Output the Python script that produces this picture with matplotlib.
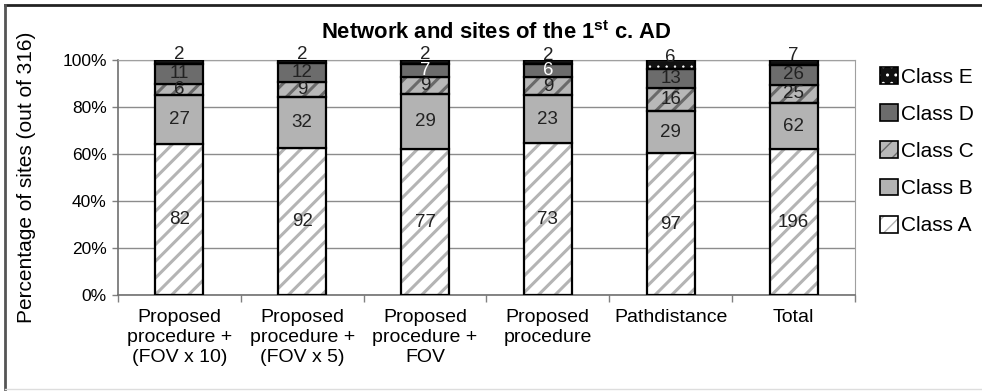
import numpy as np
import matplotlib
matplotlib.use("Agg")
import matplotlib.pyplot as plt
from matplotlib.patches import Patch
from matplotlib.legend_handler import HandlerTuple
from matplotlib.lines import Line2D

plt.rcParams['font.family'] = ['Liberation Sans', 'DejaVu Sans']
plt.rcParams['mathtext.fontset'] = 'custom'
plt.rcParams['mathtext.bf'] = 'Liberation Sans:bold'
plt.rcParams['mathtext.rm'] = 'Liberation Sans'

categories = ['Proposed\nprocedure +\n(FOV x 10)', 'Proposed\nprocedure +\n(FOV x 5)',
              'Proposed\nprocedure +\nFOV', 'Proposed\nprocedure', 'Pathdistance', 'Total']
class_names = ['Class A', 'Class B', 'Class C', 'Class D', 'Class E']
class_a = [82, 92, 77, 73, 97, 196]
class_b = [27, 32, 29, 23, 29, 62]
class_c = [6, 9, 9, 9, 16, 25]
class_d = [11, 12, 7, 6, 13, 26]
class_e = [2, 2, 2, 2, 6, 7]

# face, hatch colour, hatch pattern, hatch line width for each class
styles = [
    ('white', '#b4b4b4', '//', 2.2),
    ('#b3b3b3', None, None, 0),
    ('#b8b8b8', '#6a6a6a', '//', 2.2),
    ('#6c6c6c', None, None, 0),
    ('#111111', 'white', '..', 0.5),
]
white_d_labels = [2, 3]  # bars where the class D count is printed in white

counts = np.array([class_a, class_b, class_c, class_d, class_e], dtype=float)
shares = counts / counts.sum(axis=0)

fig = plt.figure(figsize=(9.82, 3.91), dpi=100)
ax = fig.add_axes([0.120, 0.2455, 0.7507, 0.601])

x = np.arange(len(categories))
width = 0.39
bottom = np.zeros(len(categories))
handles = []
for k, (face, hcol, hatch, hlw) in enumerate(styles):
    if hatch:
        with plt.rc_context({'hatch.linewidth': hlw}):
            ax.bar(x, shares[k], width, bottom=bottom, color=face, edgecolor=hcol,
                   hatch=hatch, linewidth=0, zorder=2)
            hp = Patch(facecolor=face, edgecolor=hcol, hatch=hatch, linewidth=0)
        ax.bar(x, shares[k], width, bottom=bottom, fill=False, edgecolor='black',
               linewidth=1.6, zorder=3)
        h = (hp, Patch(fill=False, edgecolor='black', linewidth=1.2))
    else:
        ax.bar(x, shares[k], width, bottom=bottom, color=face, edgecolor='black',
               linewidth=1.6, zorder=3)
        h = Patch(facecolor=face, edgecolor='black', linewidth=1.2)
    handles.append(h)
    for i in range(len(categories)):
        yc = bottom[i] + shares[k][i] / 2
        col = 'white' if (k == 3 and i in white_d_labels) else '#222222'
        off = 5 if k == 4 else 0
        ax.annotate('%d' % counts[k][i], (x[i], yc), xytext=(0, off),
                    textcoords='offset points', ha='center', va='center',
                    fontsize=13.5, color=col, zorder=4)
    bottom += shares[k]

ax.set_xlim(-0.5, len(categories) - 0.5)
ax.set_ylim(0, 1)
ax.set_yticks(np.arange(0, 1.01, 0.2))
ax.set_yticklabels(['%d%%' % v for v in range(0, 101, 20)], fontsize=12.5)
ax.yaxis.grid(True, color='#8c8c8c', linewidth=1.0, zorder=0)
ax.set_axisbelow(True)
ax.set_xticks(x)
ax.set_xticklabels(categories, fontsize=14, linespacing=1.25)
ax.set_xticks(np.arange(-0.5, len(categories)), minor=True)
ax.tick_params(axis='x', which='major', length=0, pad=10)
ax.tick_params(axis='x', which='minor', length=5, color='#808080', width=1)
ax.tick_params(axis='y', length=4, color='#808080', width=1, pad=4)
for s in ['top', 'right']:
    ax.spines[s].set_color('#a0a0a0')
for s in ['left', 'bottom']:
    ax.spines[s].set_color('#707070')
    ax.spines[s].set_linewidth(1.2)

ax.set_ylabel('Percentage of sites (out of 316)', fontsize=15, labelpad=19)
fig.text(0.5055, 0.918, r'Network and sites of the 1$^{\mathbf{st}}$ c. AD',
         ha='center', va='center', fontsize=15.8, fontweight='bold')

leg = fig.legend(handles[::-1], class_names[::-1], loc='upper left',
                 bbox_to_anchor=(0.888, 0.85), frameon=False, fontsize=15,
                 handlelength=0.85, handleheight=0.85, handletextpad=0.15,
                 labelspacing=0.85, borderaxespad=0,
                 handler_map={tuple: HandlerTuple(ndivide=1)})

# outer frame around the chart
fig.add_artist(Line2D([0.005, 1.0], [0.987, 0.987], color='#222222', linewidth=2.0))
fig.add_artist(Line2D([0.005, 0.005], [0.004, 0.987], color='#555555', linewidth=2.0))
fig.add_artist(Line2D([0.005, 1.0], [0.004, 0.004], color='#dddddd', linewidth=1.0))

fig.savefig('out.png', dpi=100)
